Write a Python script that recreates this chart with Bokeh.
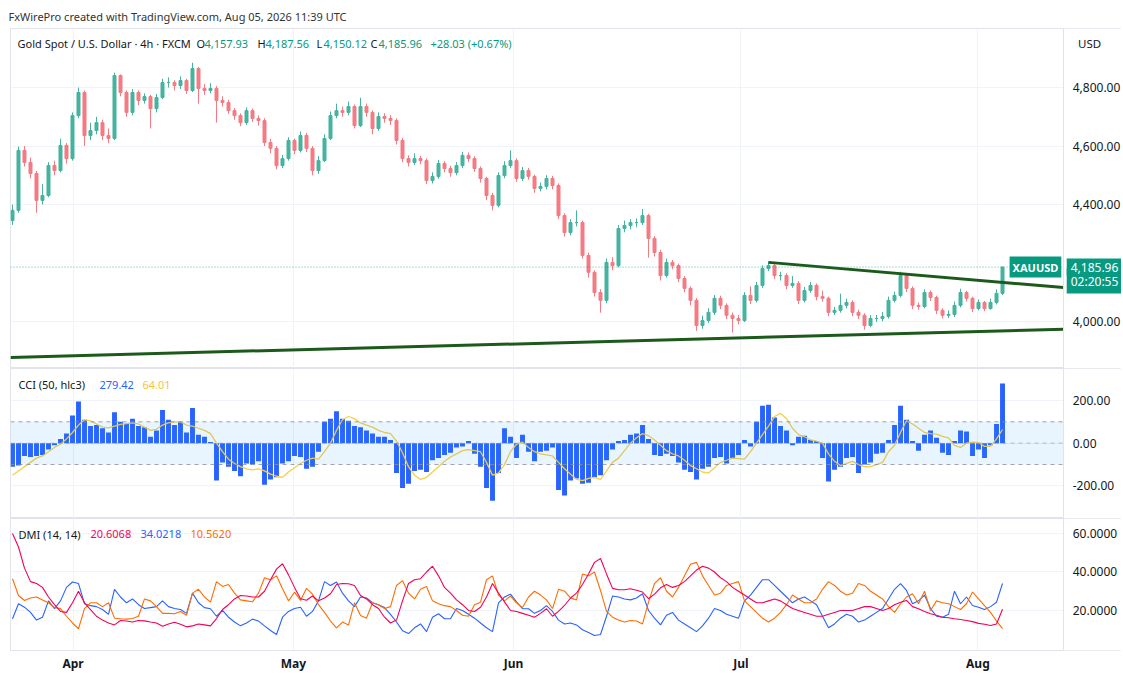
from bokeh.plotting import figure
from bokeh.layouts import column
from bokeh.models import (ColumnDataSource, Range1d, FixedTicker, Label, Span, BoxAnnotation)
from bokeh.core.properties import value
from bokeh.embed import file_html
from bokeh.resources import INLINE

first_open = 4345
close = [4380, 4585, 4544, 4506, 4414, 4431, 4533, 4516, 4602, 4557,
         4704, 4783, 4636, 4653, 4680, 4636, 4626, 4841, 4783, 4715,
         4783, 4756, 4769, 4728, 4766, 4817, 4817, 4807, 4824, 4790,
         4865, 4797, 4790, 4797, 4756, 4749, 4721, 4704, 4680, 4721,
         4694, 4687, 4612, 4592, 4533, 4557, 4619, 4585, 4636, 4592,
         4516, 4550, 4626, 4704, 4721, 4715, 4735, 4670, 4735, 4715,
         4660, 4701, 4694, 4687, 4619, 4557, 4544, 4557, 4550, 4482,
         4496, 4540, 4523, 4509, 4533, 4568, 4557, 4523, 4489, 4431,
         4397, 4499, 4533, 4550, 4489, 4516, 4496, 4455, 4462, 4489,
         4465, 4362, 4304, 4338, 4338, 4226, 4168, 4099, 4072, 4202,
         4191, 4318, 4328, 4338, 4338, 4362, 4284, 4236, 4157, 4202,
         4191, 4147, 4113, 4072, 3986, 4003, 4031, 4079, 4055, 4021,
         4010, 4003, 4089, 4072, 4123, 4181, 4191, 4157, 4157, 4123,
         4130, 4072, 4106, 4123, 4085, 4079, 4031, 4038, 4055, 4065,
         4031, 4021, 3986, 4010, 4010, 4017, 4072, 4089, 4157, 4113,
         4055, 4051, 4099, 4082, 4038, 4021, 4024, 4055, 4099, 4079,
         4044, 4065, 4044, 4065, 4096, 4185.96]
high = [4400, 4598, 4600, 4560, 4515, 4470, 4545, 4550, 4625, 4610,
        4715, 4800, 4790, 4680, 4700, 4690, 4660, 4851, 4845, 4790,
        4795, 4790, 4780, 4775, 4778, 4830, 4835, 4825, 4838, 4830,
        4885, 4870, 4812, 4815, 4805, 4770, 4758, 4730, 4712, 4732,
        4728, 4705, 4695, 4625, 4600, 4570, 4630, 4625, 4650, 4645,
        4600, 4565, 4640, 4718, 4745, 4735, 4752, 4742, 4765, 4745,
        4722, 4715, 4712, 4706, 4695, 4628, 4568, 4575, 4566, 4558,
        4510, 4552, 4548, 4532, 4545, 4580, 4578, 4565, 4530, 4495,
        4440, 4510, 4548, 4585, 4558, 4528, 4525, 4502, 4475, 4500,
        4498, 4472, 4370, 4350, 4380, 4345, 4235, 4175, 4110, 4215,
        4220, 4330, 4345, 4350, 4352, 4385, 4368, 4292, 4245, 4215,
        4210, 4198, 4155, 4120, 4080, 4020, 4045, 4090, 4088, 4062,
        4030, 4022, 4100, 4120, 4135, 4192, 4205, 4198, 4170, 4165,
        4155, 4138, 4118, 4135, 4130, 4105, 4085, 4050, 4095, 4078,
        4072, 4040, 4028, 4022, 4022, 4032, 4085, 4102, 4170, 4162,
        4120, 4065, 4110, 4106, 4088, 4045, 4038, 4068, 4112, 4105,
        4085, 4075, 4070, 4078, 4110, 4187.56]
low = [4330, 4372, 4530, 4490, 4372, 4400, 4425, 4500, 4510, 4540,
       4550, 4695, 4600, 4620, 4640, 4620, 4610, 4620, 4770, 4700,
       4705, 4740, 4745, 4660, 4715, 4760, 4800, 4790, 4795, 4778,
       4785, 4745, 4775, 4780, 4680, 4735, 4710, 4690, 4668, 4672,
       4682, 4670, 4600, 4575, 4520, 4525, 4550, 4572, 4578, 4580,
       4500, 4505, 4545, 4620, 4695, 4700, 4705, 4660, 4665, 4700,
       4640, 4652, 4680, 4672, 4605, 4545, 4530, 4535, 4538, 4470,
       4472, 4488, 4510, 4495, 4500, 4525, 4545, 4512, 4475, 4415,
       4380, 4390, 4490, 4525, 4478, 4480, 4485, 4440, 4445, 4452,
       4452, 4350, 4290, 4295, 4325, 4215, 4150, 4085, 4030, 4062,
       4175, 4185, 4305, 4315, 4322, 4330, 4218, 4222, 4140, 4150,
       4178, 4135, 4100, 4055, 3968, 3975, 3995, 4022, 4042, 4008,
       3962, 3990, 3998, 4060, 4065, 4115, 4172, 4145, 4140, 4110,
       4115, 4060, 4065, 4098, 4072, 4068, 4018, 4022, 4030, 4045,
       4018, 4008, 3972, 3980, 3998, 4000, 4010, 4065, 4082, 4100,
       4042, 4040, 4045, 4070, 4025, 4010, 4012, 4015, 4048, 4068,
       4032, 4038, 4035, 4040, 4058, 4090]

cci = [-110, -105, -60, -65, -60, -55, -30, -10, 20, 45,
       130, 195, 110, 80, 85, 70, 50, 145, 100, 90,
       115, 80, 75, 30, 60, 155, 110, 85, 100, 50,
       165, 40, 30, 5, -175, -90, -110, -130, -155, -95,
       -100, -85, -195, -170, -160, -95, -85, -60, -65, -120,
       -110, -40, 100, 115, 150, 115, 105, 80, 75, 60,
       45, 30, 30, 15, -140, -210, -190, -130, -125, -135,
       -80, -70, -55, -45, -20, -15, 10, -50, -110, -210,
       -270, -140, 70, 30, -70, 40, -40, -85, -40, -35,
       -20, -220, -245, -175, -165, -190, -185, -160, -150, -80,
       -30, 10, 15, 40, 45, 85, 20, -55, -60, -50,
       -60, -90, -125, -135, -170, -120, -110, -70, -65, -95,
       -70, -55, 15, -15, 100, 175, 180, 120, 80, 60,
       -10, 30, 35, 15, 10, -70, -180, -125, -110, -70,
       -65, -140, -100, -90, -50, -45, 15, 85, 175, 110,
       10, -35, 40, 60, 25, -45, -55, 10, 60, 55,
       -60, -30, -70, -10, 90, 279.42]
cci_ma = [-150, -130, -110, -90, -70, -60, -40, -20, -5, 20,
          50, 85, 110, 105, 90, 75, 72, 80, 88, 92,
          95, 90, 75, 60, 65, 85, 95, 100, 100, 85,
          80, 70, 60, 45, 0, -40, -75, -95, -110, -120,
          -125, -120, -130, -145, -155, -160, -135, -115, -95, -80,
          -70, -75, -40, 0, 60, 110, 125, 115, 95, 85,
          75, 60, 50, 45, 10, -45, -110, -150, -170, -160,
          -135, -110, -85, -65, -50, -35, -30, -35, -40, -90,
          -150, -140, -100, -40, -5, 5, -20, -40, -50, -55,
          -60, -90, -120, -145, -170, -175, -165, -160, -170, -130,
          -90, -70, -35, 0, 25, 45, 35, 15, -10, -35,
          -50, -60, -80, -105, -120, -135, -140, -115, -90, -80,
          -70, -72, -75, -40, 0, 40, 80, 125, 140, 115,
          70, 40, 30, 15, 10, 0, -50, -85, -105, -95,
          -85, -100, -110, -110, -100, -90, -40, -10, 50, 105,
          90, 70, 50, 45, 42, 32, 25, -10, -20, 0,
          5, 3, -15, -15, 20, 64.01]

adx = [60, 53, 42, 35, 34, 32, 27, 23, 19.5, 19,
       24, 30, 24, 20.5, 17, 15, 13.5, 12.5, 14.8, 14.5,
       14, 14.8, 14.6, 14, 13.5, 11.8, 13, 13.9, 12.8, 11.5,
       12, 13, 12.5, 12, 15.8, 20.5, 23, 26, 27.8, 27.5,
       27, 27, 30, 36, 41.5, 44.3, 38.5, 32, 26.1, 25.3,
       27.5, 25, 26.5, 28.7, 33.5, 34, 33.9, 33, 27.8, 26,
       23, 21, 16.5, 13.5, 15, 25, 34, 36, 36.5, 40,
       43, 38, 32, 29, 25.5, 23, 20, 19.5, 21.7, 27,
       34, 29, 24.5, 20, 19.5, 18.5, 17.5, 16.5, 18.5, 20.9,
       17, 19.5, 22.6, 26.5, 29, 33.5, 39, 45, 47, 39,
       31.5, 30.8, 30.8, 31.3, 30.5, 29.6, 26.1, 28.5, 31.8, 33.5,
       32, 33, 35, 38, 41, 43, 42, 40, 37, 35,
       32, 30, 28, 26, 24, 24, 25, 26, 25, 23,
       21, 20, 19, 18, 17, 17, 18, 19, 20, 20,
       20, 21, 22, 22, 21, 20, 21, 23, 24.3, 25.2,
       22, 20.9, 19.5, 18.3, 17.5, 16.5, 16.2, 15.7, 15.3, 14.8,
       14.2, 13.3, 12.8, 12.2, 13, 20.6068]
di_plus = [15.7, 23.5, 21.7, 19, 15, 16.5, 25, 21, 25, 32,
           34.8, 34, 23.5, 22.5, 22, 20.5, 18, 31, 27, 24,
           26, 23, 21, 21.5, 22, 25, 22, 21, 20.5, 18.5,
           29, 24, 21.5, 20.9, 17, 20, 16.5, 14, 12, 13.5,
           15.5, 14.5, 12, 9.6, 7.5, 16.5, 19.5, 21, 21.7, 17,
           19.5, 25, 35, 33, 34.8, 29, 25, 22, 27, 26.5,
           24, 23, 21.5, 18, 14, 9.5, 8, 11, 13, 9,
           16.5, 18.3, 15.7, 15.7, 21, 20, 18, 16, 13.5, 11,
           9, 24, 27, 28.5, 24.5, 20.9, 20.9, 18.5, 20, 22.5,
           19.5, 15, 13, 13.5, 12.5, 10, 8.5, 7, 7.5, 17,
           27.5, 27, 26, 25.5, 26.5, 28.7, 20, 16, 12.5, 17.5,
           19, 15, 13, 11, 9, 12, 16, 21, 20, 18,
           17, 16, 25, 28, 32, 36, 36, 33, 30, 27,
           24, 26, 27, 25, 23, 17, 11, 13, 16, 18,
           17, 14, 15, 17, 19, 21, 26, 31, 34, 30.4,
           23.5, 25, 28, 21, 17, 16.5, 18, 30, 23.5, 27,
           22.6, 21.7, 20.5, 22, 24.3, 34.0218]
di_minus = [36.5, 27.8, 25.2, 26.5, 27, 25.5, 24, 21.5, 21, 17,
            13.5, 10.5, 21, 24, 24, 22, 24, 16, 15.7, 15.5,
            15.8, 17, 26, 25, 22, 18.5, 18.5, 18.3, 19.5, 17.5,
            29, 31, 27, 24.3, 35, 32.5, 33.5, 29, 25.5, 25,
            24.5, 29, 37, 36, 38, 31.3, 25, 29.5, 25.2, 31.5,
            28.5, 23, 19, 14.5, 11, 14, 12.5, 24, 17.4, 16,
            24, 23, 21, 22, 33, 35.5, 29, 26, 31, 32.5,
            25, 23.5, 22.5, 22, 20, 17.5, 17, 23, 24.3, 36,
            38, 28, 25, 27.5, 24, 21.5, 27, 30, 28, 25.5,
            21, 31, 30, 26.5, 25.5, 39, 38, 40, 30.4, 19.5,
            16.5, 15, 14, 14.8, 14.5, 13, 24.3, 34, 37, 30,
            27, 32, 38, 44, 45, 38, 33, 28, 29, 33,
            34, 35, 25, 22, 19, 16, 14, 16, 19, 23,
            28, 26, 24, 24, 26, 31, 35, 33, 30, 28,
            29, 34, 33, 30, 28, 26, 22, 19, 23.5, 27,
            28.7, 23.5, 30, 20, 25, 24, 23.5, 22, 20.5, 23.5,
            29.6, 26, 22.5, 19, 14.5, 10.562]

month_pos = [10.1, 46.8, 83.5, 121.4, 160.9]
month_labels = ["Apr", "May", "Jun", "Jul", "Aug"]
price_ticks = [4000, 4400, 4600, 4800]
cci_ticks = [-200, 0, 200]
dmi_ticks = [20, 40, 60]

# trend lines drawn on the chart (bar index, price)
support_x = [-0.33, 175.17]
support_y = [3877, 3973]
resist_x = [126, 175.17]
resist_y = [4202, 4116]
last_price = 4185.96

FONT = "Noto Sans"
DARK = "#131722"
TEAL = "#089981"
UP = "#45b39f"
DOWN = "#f47a83"
W = 1121
BL = 10
AXIS_X = 175.17          # where the price scale starts (bar units)
LABEL_X = 176.7

x_range = Range1d(-0.333, 184.83)


def pane(height, lo, hi, ticks, top=0, bottom=0):
    p = figure(width=W, height=height, x_range=x_range, y_range=Range1d(lo, hi),
               y_axis_location=None, toolbar_location=None, tools="",
               output_backend="svg", min_border_left=BL, min_border_right=0,
               min_border_top=top, min_border_bottom=bottom)
    p.outline_line_color = "#e0e3eb"
    p.border_fill_color = "white"
    p.xgrid.ticker = FixedTicker(ticks=month_pos)
    p.ygrid.ticker = FixedTicker(ticks=ticks)
    p.grid.grid_line_color = "#f0f3fa"
    return p


def price_scale(p, ticks, fmt):
    # blank strip on the right with the scale labels, as on the TradingView chart
    p.add_layout(BoxAnnotation(left=AXIS_X, fill_color="white", fill_alpha=1, line_color=None))
    p.add_layout(Span(location=AXIS_X, dimension="height", line_color="#e0e3eb", line_width=1))
    p.text(x=[LABEL_X] * len(ticks), y=ticks, text=[fmt.format(t) for t in ticks],
           text_font=value(FONT), text_font_size="12px", text_color=DARK,
           text_baseline="middle", level="overlay")


def txt(p, x, y, s, color, size="11px", **kw):
    opts = dict(x_units="screen", y_units="screen", text_baseline="middle",
                text_font=FONT, text_font_size=size)
    opts.update(kw)
    p.add_layout(Label(x=x, y=y, text=s, text_color=color, **opts))


# ---- price pane
FH1 = 340
p1 = pane(368, 3839, 5002, price_ticks, top=28)
p1.xaxis.visible = False
p1.title.text = "FxWirePro created with TradingView.com, Aug 05, 2026 11:39 UTC"
p1.title.text_font = FONT
p1.title.text_font_size = "11px"
p1.title.text_font_style = "normal"
p1.title.text_color = "#333333"
p1.title.standoff = 10
p1.title.offset = -2

idx = list(range(len(close)))
opens = [first_open] + close[:-1]
src = ColumnDataSource(dict(
    idx=idx, high=high, low=low,
    top=[max(o, c) for o, c in zip(opens, close)],
    bot=[min(o, c) for o, c in zip(opens, close)],
    color=[UP if c >= o else DOWN for o, c in zip(opens, close)],
))
p1.segment(x0="idx", y0="low", x1="idx", y1="high", line_color="color", line_width=1, source=src)
p1.vbar(x="idx", width=0.5, top="top", bottom="bot", fill_color="color",
        line_color="color", source=src)

p1.add_layout(Span(location=last_price, dimension="width", line_color=TEAL,
                   line_dash="1 2", line_alpha=0.7, line_width=1))
p1.line(support_x, support_y, line_width=3, line_color="#1c5a1c")
p1.line(resist_x, resist_y, line_width=3, line_color="#1c5a1c")

price_scale(p1, price_ticks, "{:,.2f}")

legend1 = [("Gold Spot / U.S. Dollar · 4h · FXCM", DARK, 7), ("O", DARK, 186),
           ("4,157.93", TEAL, 194), ("H", DARK, 247), ("4,187.56", TEAL, 255),
           ("L", DARK, 306), ("4,150.12", TEAL, 313), ("C", DARK, 360),
           ("4,185.96", TEAL, 368), ("+28.03 (+0.67%)", TEAL, 420)]
for s, col, x in legend1:
    txt(p1, x, FH1 - 15, s, col)
p1.add_layout(Label(x=177.6, y=FH1 - 15, x_units="data", y_units="screen", text="USD",
                    text_baseline="middle", text_color=DARK, text_font=FONT,
                    text_font_size="11.5px"))

p1.add_layout(Label(x=174.8, y=last_price, x_units="data", y_units="data", text="XAUUSD",
                    text_align="right", text_baseline="middle", text_color="white",
                    text_font=FONT, text_font_size="11px", text_font_style="bold",
                    background_fill_color=TEAL, padding=3))
# lower line first so the price line on top stays whole
p1.add_layout(Label(x=175.7, y=last_price, y_offset=-14, x_units="data", y_units="data",
                    text="02:20:55", text_baseline="middle", text_color="white", text_font=FONT,
                    text_font_size="12px", background_fill_color=TEAL, padding=4))
p1.add_layout(Label(x=175.7, y=last_price, x_units="data", y_units="data", text="4,185.96",
                    text_baseline="middle", text_color="white", text_font=FONT,
                    text_font_size="12px", background_fill_color=TEAL, padding=4))

# ---- CCI pane
FH2 = 150
p2 = pane(FH2, -353, 350, cci_ticks)
p2.xaxis.visible = False
p2.add_layout(BoxAnnotation(bottom=-100, top=100, right=AXIS_X, fill_color="#2196f3",
                            fill_alpha=0.1, line_color=None))
for lvl, a in [(100, 0.8), (0, 0.5), (-100, 0.8)]:
    p2.add_layout(Span(location=lvl, dimension="width", line_color="#8a8d96",
                       line_dash="4 4", line_alpha=a, line_width=1))
p2.vbar(x=idx, top=cci, bottom=0, width=0.82, fill_color="#2962ff", line_color=None)
p2.line(idx, cci_ma, line_color="#f7cf47", line_width=1.3)
price_scale(p2, cci_ticks, "{:.2f}")
for s, col, x in [("CCI (50, hlc3)", DARK, 8), ("279.42", "#2962ff", 89), ("64.01", "#f2c53d", 132)]:
    txt(p2, x, FH2 - 16, s, col)

# ---- DMI pane (frame 132px, time scale below)
p3 = pane(162, -0.8, 67.8, dmi_ticks, bottom=30)
p3.xaxis.ticker = FixedTicker(ticks=month_pos)
p3.xaxis.major_label_overrides = dict(zip(month_pos, month_labels))
p3.xaxis.axis_line_color = None
p3.xaxis.major_tick_line_color = None
p3.xaxis.minor_tick_line_color = None
p3.xaxis.major_tick_out = 0
p3.xaxis.major_tick_in = 0
p3.xaxis.major_label_standoff = 4
p3.xaxis.major_label_text_font = FONT
p3.xaxis.major_label_text_font_size = "12px"
p3.xaxis.major_label_text_font_style = "bold"
p3.xaxis.major_label_text_color = DARK
p3.line(idx, di_plus, line_color="#2962ff", line_width=1.1)
p3.line(idx, di_minus, line_color="#ff6d00", line_width=1.1)
p3.line(idx, adx, line_color="#f50057", line_width=1.1)
price_scale(p3, dmi_ticks, "{:.4f}")
for s, col, x in [("DMI (14, 14)", DARK, 8), ("20.6068", "#f50057", 80),
                  ("34.0218", "#2962ff", 130), ("10.5620", "#ff6d00", 180)]:
    txt(p3, x, 59.5, s, col, y_units="data")

layout = column(p1, p2, p3, spacing=0)
open("out.html", "w").write(file_html(layout, INLINE))
